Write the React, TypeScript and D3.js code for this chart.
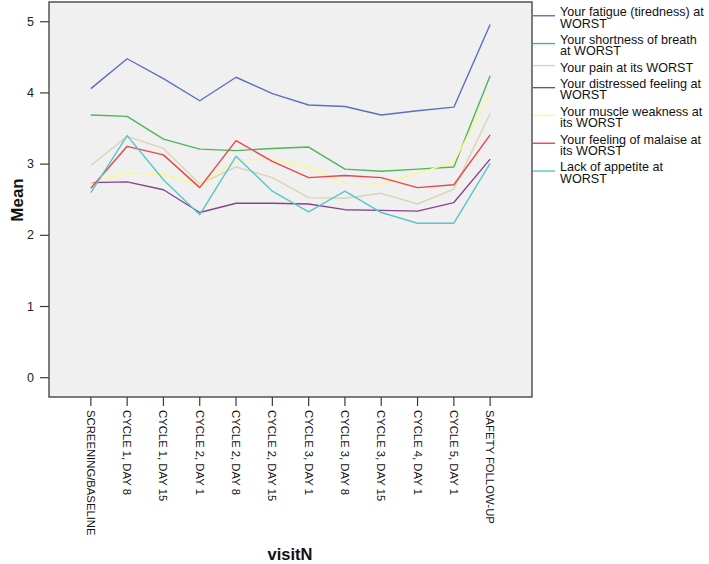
import React from "react";
import * as d3 from "d3";

const visits = [
  "SCREENING/BASELINE",
  "CYCLE 1, DAY 8",
  "CYCLE 1, DAY 15",
  "CYCLE 2, DAY 1",
  "CYCLE 2, DAY 8",
  "CYCLE 2, DAY 15",
  "CYCLE 3, DAY 1",
  "CYCLE 3, DAY 8",
  "CYCLE 3, DAY 15",
  "CYCLE 4, DAY 1",
  "CYCLE 5, DAY 1",
  "SAFETY FOLLOW-UP",
];

const fatigue = [4.06, 4.48, 4.2, 3.89, 4.22, 3.99, 3.83, 3.81, 3.69, 3.75, 3.8, 4.96];
const breath = [3.69, 3.67, 3.35, 3.21, 3.19, 3.22, 3.24, 2.93, 2.9, 2.93, 2.96, 4.24];
const pain = [2.98, 3.39, 3.22, 2.72, 2.96, 2.81, 2.53, 2.52, 2.59, 2.44, 2.65, 3.71];
const distressed = [2.74, 2.75, 2.64, 2.32, 2.45, 2.45, 2.44, 2.36, 2.35, 2.34, 2.46, 3.07];
const muscle = [2.74, 2.88, 2.85, 2.71, 3.06, 3.07, 2.96, 2.73, 2.72, 2.87, 3.03, 3.98];
const malaise = [2.66, 3.25, 3.13, 2.67, 3.33, 3.04, 2.81, 2.84, 2.81, 2.67, 2.71, 3.41];
const appetite = [2.6, 3.4, 2.78, 2.29, 3.11, 2.62, 2.33, 2.62, 2.32, 2.17, 2.17, 3.01];

const yTicks = [0, 1, 2, 3, 4, 5];

const series = [
  { lines: ["Your fatigue (tiredness) at", "WORST"], values: fatigue, color: "#5b70c0" },
  { lines: ["Your shortness of breath", "at WORST"], values: breath, color: "#4cb75a" },
  { lines: ["Your pain at its WORST"], values: pain, color: "#d9d4b4" },
  { lines: ["Your distressed feeling at", "WORST"], values: distressed, color: "#8a4290" },
  { lines: ["Your muscle weakness at", "its WORST"], values: muscle, color: "#f8f890" },
  { lines: ["Your feeling of malaise at", "its WORST"], values: malaise, color: "#e6474b" },
  { lines: ["Lack of appetite at", "WORST"], values: appetite, color: "#58c6ca" },
];

const W = 709;
const H = 564;
const plot = { left: 49, right: 532, top: 2, bottom: 397 };
const font = "'Liberation Sans', Arial, sans-serif";

export default function App() {
  const x = d3
    .scalePoint<string>()
    .domain(visits)
    .range([plot.left, plot.right])
    .padding(1.153);
  const y = d3.scaleLinear().domain([-0.271, 5.277]).range([plot.bottom, plot.top]);
  const line = d3
    .line<number>()
    .x((_, i) => x(visits[i]) as number)
    .y((d) => y(d));

  // legend layout
  const lineH = 11.5;
  const gap = 4.8;
  let cursor = 12;
  const legendItems = series.map((s) => {
    const ys = s.lines.map((_, j) => cursor + j * lineH);
    const mid = (ys[0] + ys[ys.length - 1]) / 2;
    cursor += s.lines.length * lineH + gap;
    return { ...s, ys, lineY: mid - 2 };
  });

  return (
    <svg
      width={W}
      height={H}
      style={{ position: "absolute", left: 0, top: 0, background: "#fff" }}
      fontFamily={font}
    >
      <rect
        x={plot.left}
        y={plot.top}
        width={plot.right - plot.left}
        height={plot.bottom - plot.top}
        fill="#f0f0f0"
      />
      {series.map((s, i) => (
        <path
          key={i}
          d={line(s.values) || ""}
          fill="none"
          stroke={s.color}
          strokeWidth={1.4}
          strokeLinejoin="round"
        />
      ))}
      <rect
        x={plot.left}
        y={plot.top}
        width={plot.right - plot.left}
        height={plot.bottom - plot.top}
        fill="none"
        stroke="#3a3a3a"
        strokeWidth={1.3}
      />
      {yTicks.map((t) => (
        <g key={t}>
          <line x1={plot.left - 9} x2={plot.left} y1={y(t)} y2={y(t)} stroke="#3a3a3a" strokeWidth={1.2} />
          <text x={34} y={y(t)} textAnchor="end" dominantBaseline="central" fontSize={12.5} fill="#222">
            {t}
          </text>
        </g>
      ))}
      {visits.map((v) => {
        const xv = x(v) as number;
        return (
          <g key={v}>
            <line x1={xv} x2={xv} y1={plot.bottom} y2={plot.bottom + 9} stroke="#3a3a3a" strokeWidth={1.2} />
            <text
              transform={`translate(${xv},${plot.bottom + 13}) rotate(90)`}
              textAnchor="start"
              dominantBaseline="central"
              fontSize={11.3}
              fill="#111"
            >
              {v}
            </text>
          </g>
        );
      })}
      <text
        transform="translate(17,200) rotate(-90)"
        textAnchor="middle"
        dominantBaseline="central"
        fontSize={17}
        fontWeight="bold"
        fill="#111"
      >
        Mean
      </text>
      <text x={290} y={554} textAnchor="middle" dominantBaseline="central" fontSize={16.5} fontWeight="bold" fill="#111">
        visitN
      </text>
      {legendItems.map((it, i) => (
        <g key={i}>
          <line x1={533} x2={555} y1={it.lineY} y2={it.lineY} stroke={it.color} strokeWidth={1.4} />
          {it.lines.map((l, j) => (
            <text key={j} x={560} y={it.ys[j]} dominantBaseline="central" fontSize={12.6} fill="#111">
              {l}
            </text>
          ))}
        </g>
      ))}
    </svg>
  );
}
